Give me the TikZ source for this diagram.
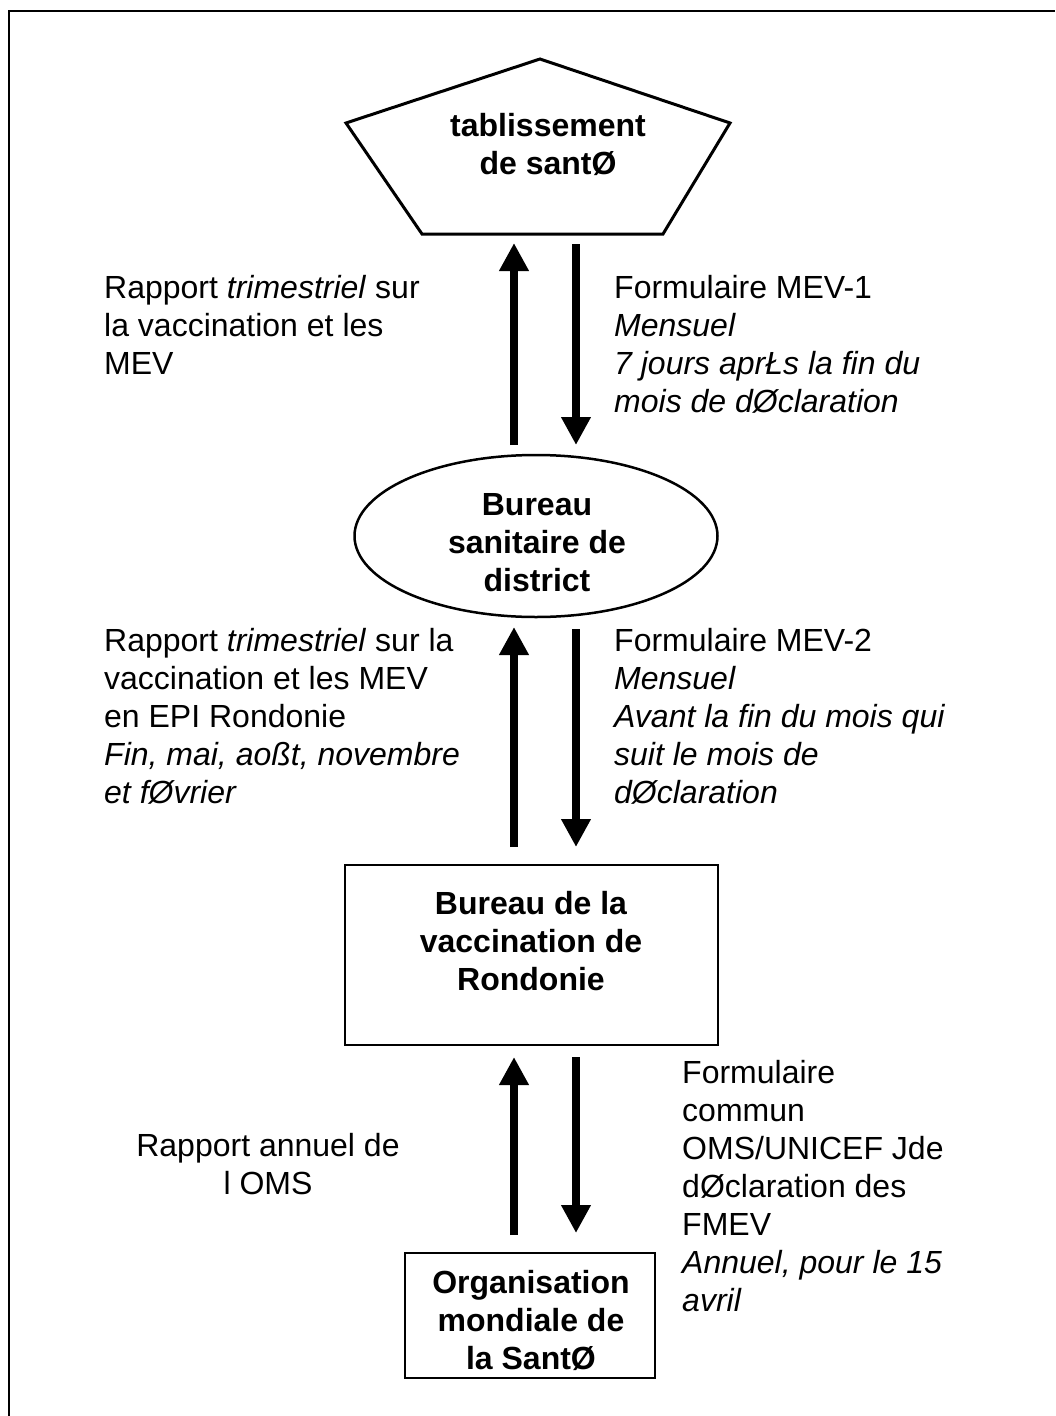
\documentclass[tikz,border=0pt]{standalone}
\usepackage{fontspec}
\setmainfont{Liberation Sans}
\usetikzlibrary{arrows.meta,shapes.geometric}
\begin{document}
\begin{tikzpicture}[x=1pt,y=-1pt,
  lbl/.style={font=\fontsize{32}{38}\selectfont, inner sep=0pt, align=left, anchor=north west},
  lblc/.style={font=\fontsize{32}{38}\selectfont, inner sep=0pt, align=center, anchor=north},
  ttl/.style={font=\fontsize{32}{38}\selectfont\bfseries, inner sep=0pt, align=center, anchor=north},
  shp/.style={draw, line width=3pt},
  boxshape/.style={draw, line width=2.5pt, inner sep=0pt},
  arr/.style={line width=8pt, -{Triangle[width=28pt,length=28pt]}}]
\useasboundingbox (0,0) rectangle (1055,1416);
% frame
\draw[line width=2.5pt] (9,1416) -- (9,11) -- (1055,11);
% pentagon
\coordinate (pA) at (540,59);
\coordinate (pR) at (730,123);
\coordinate (pBR) at (663,234);
\coordinate (pBL) at (422,234);
\coordinate (pL) at (346,123);
\draw[shp, line join=miter] (pA) -- (pR) -- (pBR) -- (pBL) -- (pL) -- cycle;
\node[ttl] (etab) at (548,113) {tablissement\\de santØ};
% ellipse
\node[boxshape, ellipse, minimum width=363, minimum height=162] (bsd) at (536,536) {};
\node[ttl] (bsdt) at (537,493) {Bureau\\sanitaire de\\district};
% box 3
\node[boxshape, rectangle, minimum width=373, minimum height=180] (bvr) at (531.5,955) {};
\node[ttl] (bvrt) at (531,891) {Bureau de la\\vaccination de\\Rondonie};
% box 4
\node[boxshape, rectangle, minimum width=250, minimum height=125] (oms) at (530,1315.5) {};
\node[ttl] (omst) at (531,1270) {Organisation\\mondiale de\\la SantØ};
% labels
\node[lbl] (l1) at (104,275) {Rapport \textit{trimestriel} sur\\la vaccination et les\\MEV};
\node[lbl] (r1) at (614,275) {Formulaire MEV-1\\\textit{Mensuel}\\\textit{7 jours aprŁs la fin du}\\\textit{mois de dØclaration}};
\node[lbl] (l2) at (104,628) {Rapport \textit{trimestriel} sur la\\vaccination et les MEV\\en EPI Rondonie\\\textit{Fin, mai, aoßt, novembre}\\\textit{et fØvrier}};
\node[lbl] (r2) at (614,628) {Formulaire MEV-2\\\textit{Mensuel}\\\textit{Avant la fin du mois qui}\\\textit{suit le mois de}\\\textit{dØclaration}};
\node[lbl] (r3) at (682,1060) {Formulaire\\commun\\OMS/UNICEF Jde\\dØclaration des\\FMEV\\\textit{Annuel, pour le 15}\\\textit{avril}};
\node[lblc] (l3) at (268,1133) {Rapport annuel de\\l OMS};
% arrows
\coordinate (u1s) at (514,445); \coordinate (u1e) at (514,243);
\coordinate (d1s) at (576,244); \coordinate (d1e) at (576,445);
\coordinate (u2s) at (514,847); \coordinate (u2e) at (514,627);
\coordinate (d2s) at (576,629); \coordinate (d2e) at (576,847);
\coordinate (u3s) at (514,1235); \coordinate (u3e) at (514,1057);
\coordinate (d3s) at (576,1057); \coordinate (d3e) at (576,1233);
\draw[arr] (u1s) -- (u1e);
\draw[arr] (d1s) -- (d1e);
\draw[arr] (u2s) -- (u2e);
\draw[arr] (d2s) -- (d2e);
\draw[arr] (u3s) -- (u3e);
\draw[arr] (d3s) -- (d3e);
\end{tikzpicture}
\end{document}
